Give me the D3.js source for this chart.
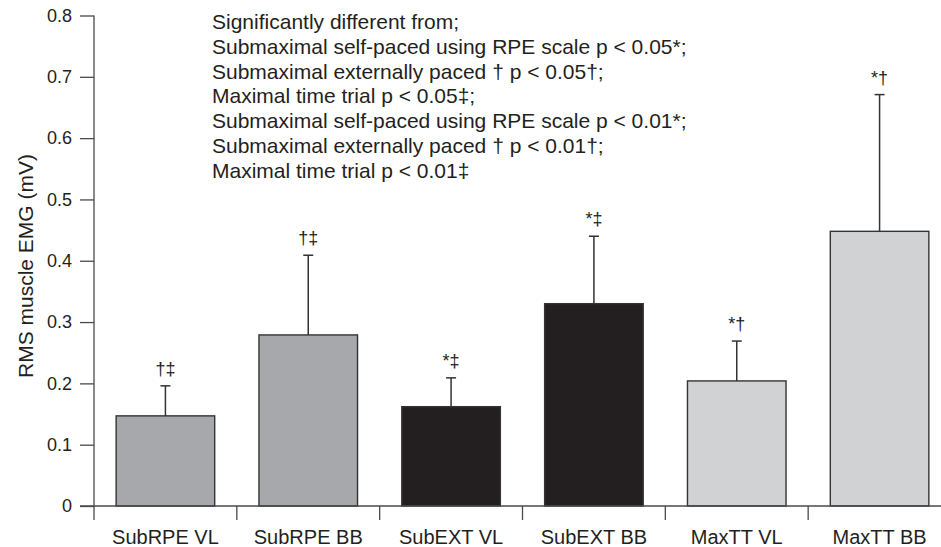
<!DOCTYPE html>
<html>
<head>
<meta charset="utf-8">
<script src="https://cdn.jsdelivr.net/npm/d3@7"></script>
<style>
  body { margin: 0; background: #fff; }
  svg { display: block; font-family: "Liberation Sans", Arial, sans-serif; }
</style>
</head>
<body>
<div id="chart"></div>
<script>
// data
const categories = ['SubRPE VL', 'SubRPE BB', 'SubEXT VL', 'SubEXT BB', 'MaxTT VL', 'MaxTT BB'];
const means = [0.147, 0.279, 0.162, 0.330, 0.204, 0.448];
const sds = [0.049, 0.130, 0.047, 0.110, 0.065, 0.223];
const marks = ['†‡', '†‡', '*‡', '*‡', '*†', '*†'];
const barColors = ['#a7a8ab', '#a7a8ab', '#231f20', '#231f20', '#d1d2d4', '#d1d2d4'];
const yTicks = [0, 0.1, 0.2, 0.3, 0.4, 0.5, 0.6, 0.7, 0.8];
const notes = [
    'Significantly different from;',
    'Submaximal self-paced using RPE scale p < 0.05*;',
    'Submaximal externally paced † p < 0.05†;',
    'Maximal time trial p < 0.05‡;',
    'Submaximal self-paced using RPE scale p < 0.01*;',
    'Submaximal externally paced † p < 0.01†;',
    'Maximal time trial p < 0.01‡'
];

const width = 941, height = 547;
const ink = '#231f20', axisCol = '#4a4a4a';

const svg = d3.select('#chart').append('svg')
    .attr('width', width)
    .attr('height', height);

const x = d3.scaleBand()
    .domain(categories)
    .range([94, 951])
    .paddingInner(0.31)
    .paddingOuter(0.155);

const y = d3.scaleLinear()
    .domain([0, 0.8])
    .range([506, 15.5]);

// y axis
const yAxis = svg.append('g')
    .attr('transform', 'translate(94,0)')
    .call(d3.axisLeft(y).tickValues(yTicks).tickSize(14).tickPadding(8)
        .tickFormat(d => d === 0 ? '0' : d3.format('.1f')(d)));
yAxis.select('.domain').remove();
yAxis.selectAll('.tick line').attr('stroke', axisCol).attr('stroke-width', 1.3);
yAxis.selectAll('.tick text')
    .attr('fill', ink)
    .style('font-size', '18px')
    .style('font-family', '"Liberation Sans", Arial, sans-serif');

svg.append('line')
    .attr('x1', 94).attr('x2', 94)
    .attr('y1', y(0.8)).attr('y2', y(0) + 14)
    .attr('stroke', axisCol).attr('stroke-width', 1.3);

// bars
svg.append('g').selectAll('rect')
    .data(categories)
    .enter().append('rect')
    .attr('x', d => x(d))
    .attr('y', (d, i) => y(means[i]))
    .attr('width', x.bandwidth())
    .attr('height', (d, i) => y(0) - y(means[i]))
    .attr('fill', (d, i) => barColors[i])
    .attr('stroke', '#333')
    .attr('stroke-width', 1.4);

// error bars (upper only)
const err = svg.append('g').attr('stroke', '#333').attr('stroke-width', 1.5);
categories.forEach((c, i) => {
    const cx = x(c) + x.bandwidth() / 2;
    err.append('line')
        .attr('x1', cx).attr('x2', cx)
        .attr('y1', y(means[i])).attr('y2', y(means[i] + sds[i]));
    err.append('line')
        .attr('x1', cx - 5).attr('x2', cx + 5)
        .attr('y1', y(means[i] + sds[i])).attr('y2', y(means[i] + sds[i]));
});

// significance marks
svg.append('g').selectAll('text')
    .data(categories)
    .enter().append('text')
    .attr('x', d => x(d) + x.bandwidth() / 2)
    .attr('y', (d, i) => y(means[i] + sds[i]) - 11)
    .attr('text-anchor', 'middle')
    .attr('fill', ink)
    .style('font-size', '18px')
    .text((d, i) => marks[i]);

// baseline and category boundaries
svg.append('line')
    .attr('x1', 80).attr('x2', width)
    .attr('y1', y(0)).attr('y2', y(0))
    .attr('stroke', axisCol).attr('stroke-width', 1.3);

svg.append('g').selectAll('line')
    .data(d3.range(1, categories.length))
    .enter().append('line')
    .attr('x1', i => x.range()[0] + i * x.step())
    .attr('x2', i => x.range()[0] + i * x.step())
    .attr('y1', y(0)).attr('y2', y(0) + 14)
    .attr('stroke', axisCol).attr('stroke-width', 1.3);

const xAxis = svg.append('g')
    .attr('transform', `translate(0,${y(0)})`)
    .call(d3.axisBottom(x).tickSize(0).tickPadding(24));
xAxis.select('.domain').remove();
xAxis.selectAll('.tick text')
    .attr('fill', ink)
    .style('font-size', '20px')
    .style('font-family', '"Liberation Sans", Arial, sans-serif');

// y label
svg.append('text')
    .attr('transform', 'translate(33,266) rotate(-90)')
    .attr('text-anchor', 'middle')
    .attr('fill', ink)
    .style('font-size', '21px')
    .text('RMS muscle EMG (mV)');

// note block
svg.append('g').selectAll('text')
    .data(notes)
    .enter().append('text')
    .attr('x', 212)
    .attr('y', (d, i) => 29 + i * 24.8)
    .attr('fill', ink)
    .style('font-size', '21px')
    .text(d => d);
</script>
</body>
</html>
